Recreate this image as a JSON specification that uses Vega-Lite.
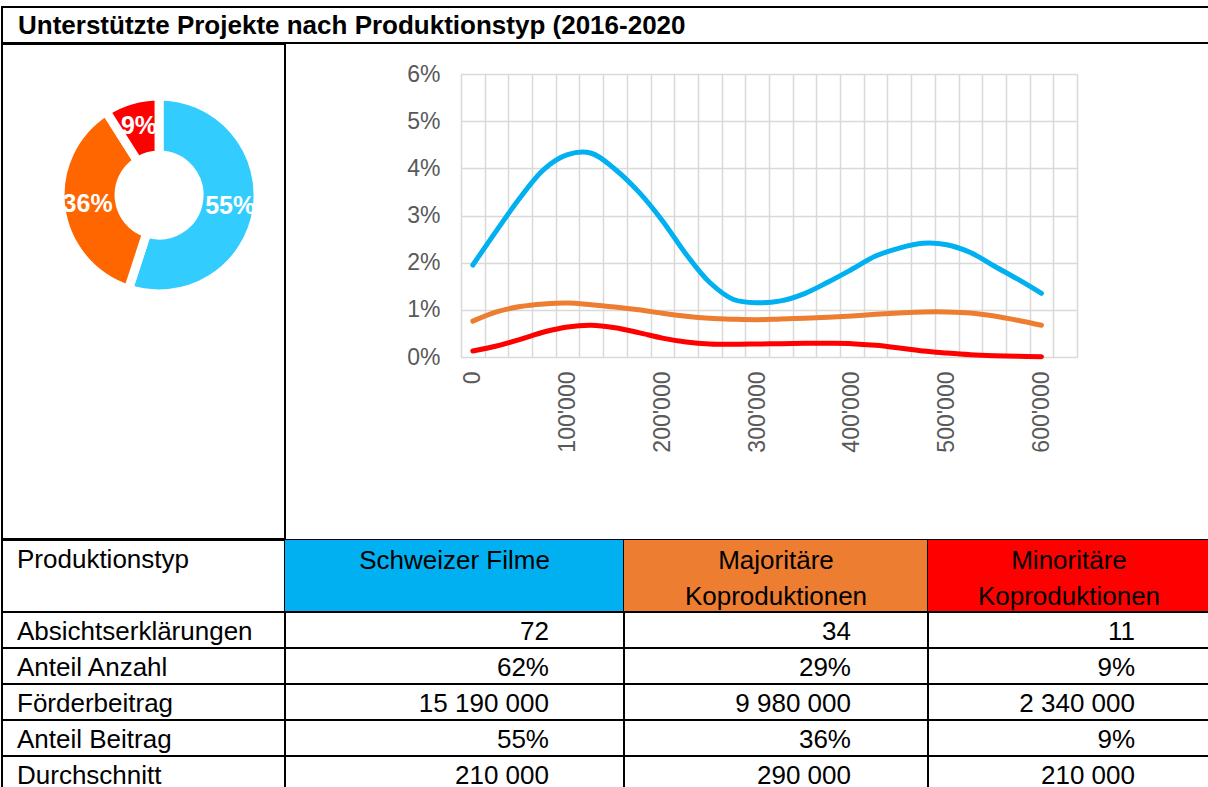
{
  "$schema": "https://vega.github.io/schema/vega-lite/v6.json",
  "padding": {"left": 0, "top": 6, "right": 0, "bottom": 0},
  "background": "white",
  "bounds": "full",
  "spacing": -2,
  "resolve": {"scale": {"color": "independent", "fill": "independent"}},
  "config": {
    "font": "Liberation Sans",
    "view": {"stroke": "black", "strokeWidth": 2},
    "text": {"font": "Liberation Sans"}
  },
  "datasets": {
    "donut": [
      {"typ": "Schweizer Filme", "anteil": 0.55},
      {"typ": "Majoritäre Koproduktionen", "anteil": 0.36},
      {"typ": "Minoritäre Koproduktionen", "anteil": 0.09}
    ],
    "linien": [
      {"betrag": 0, "typ": "Schweizer Filme", "anteil": 0.0195},
      {"betrag": 25000, "typ": "Schweizer Filme", "anteil": 0.0268},
      {"betrag": 50000, "typ": "Schweizer Filme", "anteil": 0.0338},
      {"betrag": 75000, "typ": "Schweizer Filme", "anteil": 0.0398},
      {"betrag": 100000, "typ": "Schweizer Filme", "anteil": 0.0429},
      {"betrag": 125000, "typ": "Schweizer Filme", "anteil": 0.0432},
      {"betrag": 150000, "typ": "Schweizer Filme", "anteil": 0.0398},
      {"betrag": 175000, "typ": "Schweizer Filme", "anteil": 0.035},
      {"betrag": 200000, "typ": "Schweizer Filme", "anteil": 0.0289},
      {"betrag": 225000, "typ": "Schweizer Filme", "anteil": 0.0218},
      {"betrag": 250000, "typ": "Schweizer Filme", "anteil": 0.0158},
      {"betrag": 275000, "typ": "Schweizer Filme", "anteil": 0.0122},
      {"betrag": 300000, "typ": "Schweizer Filme", "anteil": 0.0115},
      {"betrag": 325000, "typ": "Schweizer Filme", "anteil": 0.0119},
      {"betrag": 350000, "typ": "Schweizer Filme", "anteil": 0.01345},
      {"betrag": 375000, "typ": "Schweizer Filme", "anteil": 0.0159},
      {"betrag": 400000, "typ": "Schweizer Filme", "anteil": 0.0186},
      {"betrag": 425000, "typ": "Schweizer Filme", "anteil": 0.0214},
      {"betrag": 450000, "typ": "Schweizer Filme", "anteil": 0.0231},
      {"betrag": 475000, "typ": "Schweizer Filme", "anteil": 0.0241},
      {"betrag": 500000, "typ": "Schweizer Filme", "anteil": 0.0238},
      {"betrag": 525000, "typ": "Schweizer Filme", "anteil": 0.02215},
      {"betrag": 550000, "typ": "Schweizer Filme", "anteil": 0.0193},
      {"betrag": 575000, "typ": "Schweizer Filme", "anteil": 0.0165},
      {"betrag": 600000, "typ": "Schweizer Filme", "anteil": 0.0135},
      {"betrag": 0, "typ": "Majoritäre Koproduktionen", "anteil": 0.0076},
      {"betrag": 25000, "typ": "Majoritäre Koproduktionen", "anteil": 0.00955},
      {"betrag": 50000, "typ": "Majoritäre Koproduktionen", "anteil": 0.0107},
      {"betrag": 75000, "typ": "Majoritäre Koproduktionen", "anteil": 0.01125},
      {"betrag": 100000, "typ": "Majoritäre Koproduktionen", "anteil": 0.01146},
      {"betrag": 125000, "typ": "Majoritäre Koproduktionen", "anteil": 0.0111},
      {"betrag": 150000, "typ": "Majoritäre Koproduktionen", "anteil": 0.0106},
      {"betrag": 175000, "typ": "Majoritäre Koproduktionen", "anteil": 0.01},
      {"betrag": 200000, "typ": "Majoritäre Koproduktionen", "anteil": 0.00927},
      {"betrag": 225000, "typ": "Majoritäre Koproduktionen", "anteil": 0.00863},
      {"betrag": 250000, "typ": "Majoritäre Koproduktionen", "anteil": 0.0082},
      {"betrag": 275000, "typ": "Majoritäre Koproduktionen", "anteil": 0.008},
      {"betrag": 300000, "typ": "Majoritäre Koproduktionen", "anteil": 0.0079},
      {"betrag": 325000, "typ": "Majoritäre Koproduktionen", "anteil": 0.00807},
      {"betrag": 350000, "typ": "Majoritäre Koproduktionen", "anteil": 0.00821},
      {"betrag": 375000, "typ": "Majoritäre Koproduktionen", "anteil": 0.00842},
      {"betrag": 400000, "typ": "Majoritäre Koproduktionen", "anteil": 0.0087},
      {"betrag": 425000, "typ": "Majoritäre Koproduktionen", "anteil": 0.00906},
      {"betrag": 450000, "typ": "Majoritäre Koproduktionen", "anteil": 0.00934},
      {"betrag": 475000, "typ": "Majoritäre Koproduktionen", "anteil": 0.00955},
      {"betrag": 500000, "typ": "Majoritäre Koproduktionen", "anteil": 0.00955},
      {"betrag": 525000, "typ": "Majoritäre Koproduktionen", "anteil": 0.00934},
      {"betrag": 550000, "typ": "Majoritäre Koproduktionen", "anteil": 0.0087},
      {"betrag": 575000, "typ": "Majoritäre Koproduktionen", "anteil": 0.00778},
      {"betrag": 600000, "typ": "Majoritäre Koproduktionen", "anteil": 0.00672},
      {"betrag": 0, "typ": "Minoritäre Koproduktionen", "anteil": 0.00127},
      {"betrag": 25000, "typ": "Minoritäre Koproduktionen", "anteil": 0.00233},
      {"betrag": 50000, "typ": "Minoritäre Koproduktionen", "anteil": 0.00375},
      {"betrag": 75000, "typ": "Minoritäre Koproduktionen", "anteil": 0.0053},
      {"betrag": 100000, "typ": "Minoritäre Koproduktionen", "anteil": 0.00637},
      {"betrag": 125000, "typ": "Minoritäre Koproduktionen", "anteil": 0.00672},
      {"betrag": 150000, "typ": "Minoritäre Koproduktionen", "anteil": 0.0062},
      {"betrag": 175000, "typ": "Minoritäre Koproduktionen", "anteil": 0.00517},
      {"betrag": 200000, "typ": "Minoritäre Koproduktionen", "anteil": 0.004},
      {"betrag": 225000, "typ": "Minoritäre Koproduktionen", "anteil": 0.00318},
      {"betrag": 250000, "typ": "Minoritäre Koproduktionen", "anteil": 0.00276},
      {"betrag": 275000, "typ": "Minoritäre Koproduktionen", "anteil": 0.0027},
      {"betrag": 300000, "typ": "Minoritäre Koproduktionen", "anteil": 0.00276},
      {"betrag": 325000, "typ": "Minoritäre Koproduktionen", "anteil": 0.00283},
      {"betrag": 350000, "typ": "Minoritäre Koproduktionen", "anteil": 0.0029},
      {"betrag": 375000, "typ": "Minoritäre Koproduktionen", "anteil": 0.0029},
      {"betrag": 400000, "typ": "Minoritäre Koproduktionen", "anteil": 0.00283},
      {"betrag": 425000, "typ": "Minoritäre Koproduktionen", "anteil": 0.00248},
      {"betrag": 450000, "typ": "Minoritäre Koproduktionen", "anteil": 0.00191},
      {"betrag": 475000, "typ": "Minoritäre Koproduktionen", "anteil": 0.00127},
      {"betrag": 500000, "typ": "Minoritäre Koproduktionen", "anteil": 0.00085},
      {"betrag": 525000, "typ": "Minoritäre Koproduktionen", "anteil": 0.0005},
      {"betrag": 550000, "typ": "Minoritäre Koproduktionen", "anteil": 0.00028},
      {"betrag": 575000, "typ": "Minoritäre Koproduktionen", "anteil": 0.00014},
      {"betrag": 600000, "typ": "Minoritäre Koproduktionen", "anteil": 0.00007}
    ],
    "tabelle": [
      {"spalte": "Produktionstyp", "zeile": "kopf1", "text": "Produktionstyp"},
      {"spalte": "Produktionstyp", "zeile": "kopf2", "text": ""},
      {"spalte": "Produktionstyp", "zeile": "Absichtserklärungen", "text": "Absichtserklärungen"},
      {"spalte": "Produktionstyp", "zeile": "Anteil Anzahl", "text": "Anteil Anzahl"},
      {"spalte": "Produktionstyp", "zeile": "Förderbeitrag", "text": "Förderbeitrag"},
      {"spalte": "Produktionstyp", "zeile": "Anteil Beitrag", "text": "Anteil Beitrag"},
      {"spalte": "Produktionstyp", "zeile": "Durchschnitt", "text": "Durchschnitt"},
      {"spalte": "Schweizer Filme", "zeile": "kopf1", "text": "Schweizer Filme"},
      {"spalte": "Schweizer Filme", "zeile": "kopf2", "text": ""},
      {"spalte": "Schweizer Filme", "zeile": "Absichtserklärungen", "text": "72"},
      {"spalte": "Schweizer Filme", "zeile": "Anteil Anzahl", "text": "62%"},
      {"spalte": "Schweizer Filme", "zeile": "Förderbeitrag", "text": "15 190 000"},
      {"spalte": "Schweizer Filme", "zeile": "Anteil Beitrag", "text": "55%"},
      {"spalte": "Schweizer Filme", "zeile": "Durchschnitt", "text": "210 000"},
      {"spalte": "Majoritäre Koproduktionen", "zeile": "kopf1", "text": "Majoritäre"},
      {"spalte": "Majoritäre Koproduktionen", "zeile": "kopf2", "text": "Koproduktionen"},
      {"spalte": "Majoritäre Koproduktionen", "zeile": "Absichtserklärungen", "text": "34"},
      {"spalte": "Majoritäre Koproduktionen", "zeile": "Anteil Anzahl", "text": "29%"},
      {"spalte": "Majoritäre Koproduktionen", "zeile": "Förderbeitrag", "text": "9 980 000"},
      {"spalte": "Majoritäre Koproduktionen", "zeile": "Anteil Beitrag", "text": "36%"},
      {"spalte": "Majoritäre Koproduktionen", "zeile": "Durchschnitt", "text": "290 000"},
      {"spalte": "Minoritäre Koproduktionen", "zeile": "kopf1", "text": "Minoritäre"},
      {"spalte": "Minoritäre Koproduktionen", "zeile": "kopf2", "text": "Koproduktionen"},
      {"spalte": "Minoritäre Koproduktionen", "zeile": "Absichtserklärungen", "text": "11"},
      {"spalte": "Minoritäre Koproduktionen", "zeile": "Anteil Anzahl", "text": "9%"},
      {"spalte": "Minoritäre Koproduktionen", "zeile": "Förderbeitrag", "text": "2 340 000"},
      {"spalte": "Minoritäre Koproduktionen", "zeile": "Anteil Beitrag", "text": "9%"},
      {"spalte": "Minoritäre Koproduktionen", "zeile": "Durchschnitt", "text": "210 000"}
    ]
  },
  "vconcat": [
    {
      "width": 1208,
      "height": 36,
      "data": {"values": [{"titel": "Unterstützte Projekte nach Produktionstyp (2016-2020"}]},
      "mark": {"type": "text", "align": "left", "baseline": "middle", "fontSize": 26, "fontWeight": "bold", "color": "black", "x": 0, "dx": 16, "dy": 1},
      "encoding": {
        "y": {"field": "titel", "type": "nominal", "scale": {"type": "band", "paddingInner": 0, "paddingOuter": 0}, "axis": null},
        "text": {"field": "titel"}
      }
    },
    {
      "hconcat": [
        {
          "width": 283,
          "height": 495,
          "data": {"name": "donut"},
          "encoding": {
            "theta": {"field": "anteil", "type": "quantitative", "stack": true},
            "order": {"field": "anteil", "sort": "descending"},
            "x": {"datum": 0.555, "type": "quantitative", "scale": {"domain": [0, 1], "nice": false}, "axis": null},
            "y": {"datum": 0.695, "type": "quantitative", "scale": {"domain": [0, 1], "nice": false}, "axis": null}
          },
          "layer": [
            {
              "mark": {"type": "arc", "outerRadius": 99, "innerRadius": 40, "stroke": "white", "strokeWidth": 9},
              "encoding": {
                "color": {
                  "field": "typ", "type": "nominal",
                  "scale": {"domain": ["Schweizer Filme", "Majoritäre Koproduktionen", "Minoritäre Koproduktionen"], "range": ["#33CCFF", "#FF6600", "#FF0000"]},
                  "legend": null
                }
              }
            },
            {
              "mark": {"type": "text", "radius": 72, "fontSize": 25, "fontWeight": "bold", "color": "white", "align": "center", "baseline": "middle"},
              "encoding": {"text": {"field": "anteil", "type": "quantitative", "format": ".0%"}}
            }
          ]
        },
        {
          "vconcat": [
            {"width": 1, "height": 1, "view": {"stroke": null}, "data": {"values": []}, "mark": "rect"},
            {
              "width": 616,
              "height": 283,
              "view": {"stroke": null},
              "data": {"name": "linien"},
              "mark": {"type": "line", "strokeWidth": 5, "interpolate": "catmull-rom", "strokeCap": "round", "strokeJoin": "round"},
              "encoding": {
                "x": {
                  "field": "betrag", "type": "ordinal",
                  "scale": {"type": "band", "paddingInner": 0, "paddingOuter": 0, "domain": [0, 25000, 50000, 75000, 100000, 125000, 150000, 175000, 200000, 225000, 250000, 275000, 300000, 325000, 350000, 375000, 400000, 425000, 450000, 475000, 500000, 525000, 550000, 575000, 600000, 625000]},
                  "axis": {
                    "title": null, "orient": "bottom", "tickBand": "extent", "grid": true, "gridColor": "#D9D9D9", "gridWidth": 1.5,
                    "ticks": false, "domain": false, "labelAngle": 270, "labelOverlap": false,
                    "labelExpr": "datum.value % 100000 === 0 ? replace(format(datum.value, ','), ',', \"'\") : ''",
                    "labelFontSize": 23, "labelColor": "#595959", "labelPadding": 14, "labelFont": "Liberation Sans"
                  }
                },
                "y": {
                  "field": "anteil", "type": "quantitative",
                  "scale": {"domain": [0, 0.06], "nice": false},
                  "axis": {
                    "title": null, "values": [0, 0.01, 0.02, 0.03, 0.04, 0.05, 0.06], "format": ".0%",
                    "grid": true, "gridColor": "#D9D9D9", "gridWidth": 1.5, "ticks": false, "domain": false,
                    "labelFontSize": 23, "labelColor": "#595959", "labelPadding": 21, "labelFont": "Liberation Sans"
                  }
                },
                "color": {
                  "field": "typ", "type": "nominal",
                  "scale": {"domain": ["Schweizer Filme", "Majoritäre Koproduktionen", "Minoritäre Koproduktionen"], "range": ["#00B0F0", "#ED7D31", "#FF0000"]},
                  "legend": null
                }
              }
            }
          ],
          "spacing": 29,
          "bounds": "flush"
        }
      ],
      "spacing": 176,
      "bounds": "flush",
      "resolve": {"scale": {"color": "independent", "x": "independent", "y": "independent"}}
    },
    {
      "hconcat": [
        {
          "width": 283,
          "height": 252,
          "data": {"name": "tabelle"},
          "transform": [{"filter": "datum.spalte === 'Produktionstyp'"}],
          "encoding": {
            "y": {"field": "zeile", "type": "nominal", "scale": {"type": "band", "paddingInner": 0, "paddingOuter": 0, "domain": ["kopf1", "kopf2", "Absichtserklärungen", "Anteil Anzahl", "Förderbeitrag", "Anteil Beitrag", "Durchschnitt"]}, "axis": null}
          },
          "layer": [
            {
              "transform": [{"filter": "datum.zeile !== 'kopf1' && datum.zeile !== 'kopf2'"}],
              "mark": {"type": "rect", "fill": "white", "stroke": "black", "strokeWidth": 2}
            },
            {
              "mark": {"type": "text", "align": "left", "baseline": "middle", "fontSize": 26, "color": "black", "x": 0, "dx": 15, "dy": 2},
              "encoding": {"text": {"field": "text"}}
            }
          ]
        },
        {
          "width": 339,
          "height": 252,
          "data": {"name": "tabelle"},
          "transform": [{"filter": "datum.spalte === 'Schweizer Filme'"}],
          "encoding": {
            "y": {"field": "zeile", "type": "nominal", "scale": {"type": "band", "paddingInner": 0, "paddingOuter": 0, "domain": ["kopf1", "kopf2", "Absichtserklärungen", "Anteil Anzahl", "Förderbeitrag", "Anteil Beitrag", "Durchschnitt"]}, "axis": null}
          },
          "layer": [
            {
              "transform": [{"filter": "datum.zeile === 'kopf1' || datum.zeile === 'kopf2'"}],
              "mark": {"type": "rect"},
              "encoding": {"fill": {"field": "spalte", "type": "nominal", "scale": {"domain": ["Schweizer Filme", "Majoritäre Koproduktionen", "Minoritäre Koproduktionen"], "range": ["#00B0F0", "#ED7D31", "#FF0000"]}, "legend": null}}
            },
            {
              "transform": [{"filter": "datum.zeile !== 'kopf1' && datum.zeile !== 'kopf2'"}],
              "mark": {"type": "rect", "fill": "white", "stroke": "black", "strokeWidth": 2}
            },
            {
              "transform": [{"filter": "datum.zeile === 'kopf1' || datum.zeile === 'kopf2'"}],
              "mark": {"type": "text", "align": "center", "baseline": "middle", "fontSize": 26, "color": "black", "dy": 3},
              "encoding": {"text": {"field": "text"}}
            },
            {
              "transform": [{"filter": "datum.zeile !== 'kopf1' && datum.zeile !== 'kopf2'"}],
              "mark": {"type": "text", "align": "right", "baseline": "middle", "fontSize": 26, "color": "black", "x": "width", "dx": -75, "dy": 2},
              "encoding": {"text": {"field": "text"}}
            }
          ]
        },
        {
          "width": 304,
          "height": 252,
          "data": {"name": "tabelle"},
          "transform": [{"filter": "datum.spalte === 'Majoritäre Koproduktionen'"}],
          "encoding": {
            "y": {"field": "zeile", "type": "nominal", "scale": {"type": "band", "paddingInner": 0, "paddingOuter": 0, "domain": ["kopf1", "kopf2", "Absichtserklärungen", "Anteil Anzahl", "Förderbeitrag", "Anteil Beitrag", "Durchschnitt"]}, "axis": null}
          },
          "layer": [
            {
              "transform": [{"filter": "datum.zeile === 'kopf1' || datum.zeile === 'kopf2'"}],
              "mark": {"type": "rect"},
              "encoding": {"fill": {"field": "spalte", "type": "nominal", "scale": {"domain": ["Schweizer Filme", "Majoritäre Koproduktionen", "Minoritäre Koproduktionen"], "range": ["#00B0F0", "#ED7D31", "#FF0000"]}, "legend": null}}
            },
            {
              "transform": [{"filter": "datum.zeile !== 'kopf1' && datum.zeile !== 'kopf2'"}],
              "mark": {"type": "rect", "fill": "white", "stroke": "black", "strokeWidth": 2}
            },
            {
              "transform": [{"filter": "datum.zeile === 'kopf1' || datum.zeile === 'kopf2'"}],
              "mark": {"type": "text", "align": "center", "baseline": "middle", "fontSize": 26, "color": "black", "dy": 3},
              "encoding": {"text": {"field": "text"}}
            },
            {
              "transform": [{"filter": "datum.zeile !== 'kopf1' && datum.zeile !== 'kopf2'"}],
              "mark": {"type": "text", "align": "right", "baseline": "middle", "fontSize": 26, "color": "black", "x": "width", "dx": -77, "dy": 2},
              "encoding": {"text": {"field": "text"}}
            }
          ]
        },
        {
          "width": 282,
          "height": 252,
          "data": {"name": "tabelle"},
          "transform": [{"filter": "datum.spalte === 'Minoritäre Koproduktionen'"}],
          "encoding": {
            "y": {"field": "zeile", "type": "nominal", "scale": {"type": "band", "paddingInner": 0, "paddingOuter": 0, "domain": ["kopf1", "kopf2", "Absichtserklärungen", "Anteil Anzahl", "Förderbeitrag", "Anteil Beitrag", "Durchschnitt"]}, "axis": null}
          },
          "layer": [
            {
              "transform": [{"filter": "datum.zeile === 'kopf1' || datum.zeile === 'kopf2'"}],
              "mark": {"type": "rect"},
              "encoding": {"fill": {"field": "spalte", "type": "nominal", "scale": {"domain": ["Schweizer Filme", "Majoritäre Koproduktionen", "Minoritäre Koproduktionen"], "range": ["#00B0F0", "#ED7D31", "#FF0000"]}, "legend": null}}
            },
            {
              "transform": [{"filter": "datum.zeile !== 'kopf1' && datum.zeile !== 'kopf2'"}],
              "mark": {"type": "rect", "fill": "white", "stroke": "black", "strokeWidth": 2}
            },
            {
              "transform": [{"filter": "datum.zeile === 'kopf1' || datum.zeile === 'kopf2'"}],
              "mark": {"type": "text", "align": "center", "baseline": "middle", "fontSize": 26, "color": "black", "dy": 3},
              "encoding": {"text": {"field": "text"}}
            },
            {
              "transform": [{"filter": "datum.zeile !== 'kopf1' && datum.zeile !== 'kopf2'"}],
              "mark": {"type": "text", "align": "right", "baseline": "middle", "fontSize": 26, "color": "black", "x": "width", "dx": -75, "dy": 2},
              "encoding": {"text": {"field": "text"}}
            }
          ]
        }
      ],
      "spacing": 0,
      "bounds": "flush"
    }
  ]
}
